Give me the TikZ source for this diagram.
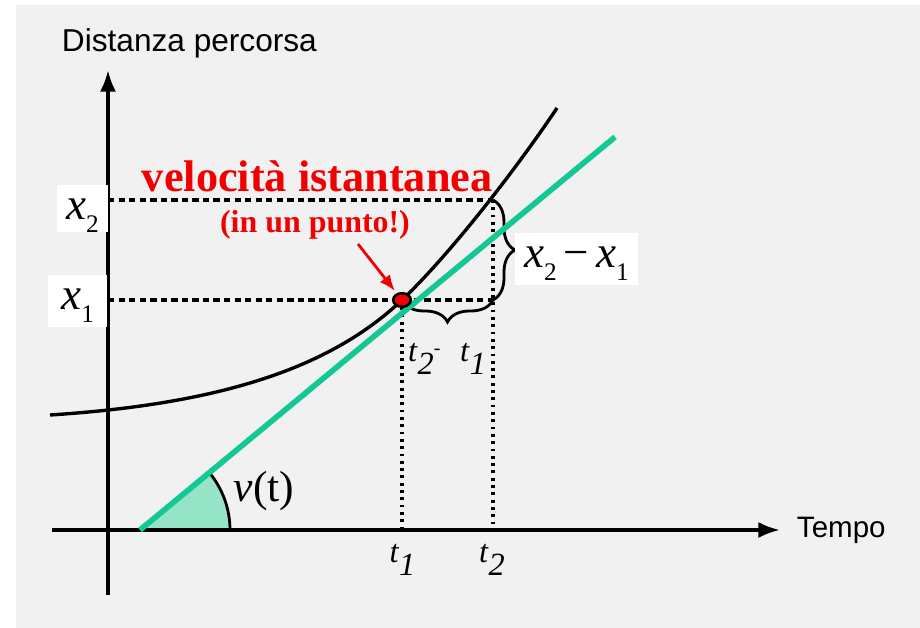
\documentclass[tikz,border=0pt]{standalone}
\usepackage{fontspec}
\setmainfont{Liberation Serif}
\newfontfamily\axisfont{Liberation Sans}
\usepackage{tikz}
\usetikzlibrary{decorations.pathreplacing,shapes,arrows.meta,positioning}

\definecolor{tangent}{RGB}{20,200,150}
\definecolor{wedge}{RGB}{150,228,200}
\definecolor{paper}{RGB}{241,241,241}
\definecolor{hotred}{RGB}{240,0,0}

\newcommand{\fs}[1]{\fontsize{#1}{#1}\selectfont}
\newcommand{\xsub}[1]{\textit{x}\raisebox{-9pt}{\fs{18pt}#1}}
\newcommand{\tsub}[1]{\textit{t}\raisebox{-9pt}{\textit{#1}}}

\begin{document}
\begin{tikzpicture}[scale=1,
    axis/.style={line width=2.5pt, -{Latex[length=5.4mm,width=4mm]}},
    guide/.style={line width=2.3pt, dash pattern=on 4.5pt off 3pt},
    drop/.style={line width=2.3pt, dash pattern=on 2pt off 3.2pt},
    bracket/.style={line width=2pt, decorate, decoration={brace, amplitude=0.55cm}},
    whitelab/.style={fill=white, inner sep=0pt, text height=25pt, anchor=base, font=\fs{32pt}},
    tlab/.style={anchor=base, font=\fs{23pt}}]
  % paper and frame
  \useasboundingbox (0,0) rectangle (23,15.7);
  \fill[paper] (0.4,0) rectangle (23,15.575);

  % points
  \coordinate (yb) at (2.7,0.825);
  \coordinate (yt) at (2.7,13.95);
  \coordinate (xl) at (1.3,2.45);
  \coordinate (xr) at (19.5,2.45);
  \coordinate (a1) at (2.7,8.2);
  \coordinate (a2) at (2.7,10.7);
  \coordinate (p1) at (10.05,8.2);
  \coordinate (p2) at (12.325,10.7);
  \coordinate (c12) at (12.325,8.2);
  \coordinate (b1) at (10.05,2.45);
  \coordinate (b2) at (12.325,2.45);
  \coordinate (g0) at (3.5,2.45);
  \coordinate (g1) at (15.375,12.275);
  \coordinate (s0) at (1.25,5.325);
  \coordinate (s1) at (13.925,13.0);

  % angle
  \filldraw[fill=wedge, draw=black, line width=2pt] (g0) -- ++(0:2.25) arc (0:39.6:2.25) -- cycle;

  % axes
  \draw[axis] (yb) -- (yt);
  \draw[axis] (xl) -- (xr);
  \node[anchor=base west, font=\axisfont\fs{22.5pt}] (ylab) at (1.425,14.4) {Distanza percorsa};
  \node[anchor=base west, font=\axisfont\fs{21pt}] (xlab) at (19.8,2.25) {Tempo};

  % guides
  \draw[guide] (a2) -- (p2);
  \draw[guide] (a1) -- (c12);
  \draw[drop] (p1) -- (b1);
  \draw[drop] (p2) -- (b2);

  % braces
  \draw[bracket] (p2) -- (c12);
  \draw[bracket] (c12) -- (p1);

  % curve and tangent
  \draw[line width=2.4pt] (s0) .. controls (5.5,5.6) and (8.25,6.49) .. (p1) .. controls (11.25,9.34) and (12.925,11.5) .. (s1);
  \draw[tangent, line width=4pt] (g0) -- (g1);

  % labels
  \node[whitelab, text depth=8.5pt, minimum width=1.275cm] (lx2) at (2.0625,10.2) {\xsub{2}};
  \node[whitelab, text depth=12pt, minimum width=1.475cm] (lx1) at (1.94,7.95) {\xsub{1}};
  \node[whitelab, text depth=12pt, minimum width=3.075cm] (ldx) at (14.41,9.0) {\xsub{2}\hspace{5pt}−\hspace{5pt}\xsub{1}};
  \node[anchor=base, font=\fs{31pt}] (vt) at (6.6,3.15) {\textit{v}(t)};
  \node[tlab] (lt1) at (10.06,1.625) {\tsub{1}};
  \node[tlab] (lt2) at (12.3,1.625) {\tsub{2}};
  \node[tlab] (ldt) at (11.175,6.65) {\tsub{2}\raisebox{5pt}{\fs{14pt}-}\hspace{14pt}\tsub{1}};

  % instant
  \node[anchor=base west, text=hotred, font=\bfseries\fs{31.5pt}] (title) at (3.425,10.9) {velocità istantanea};
  \node[anchor=base, text=hotred, font=\bfseries\fs{22.7pt}] (punto) at (7.875,9.875) {(in un punto!)};
  \node[ellipse, draw=black, fill=hotred, line width=1.8pt, minimum width=0.44cm, minimum height=0.34cm, inner sep=0pt] (dot) at (p1) {};
  \coordinate (arr) at (8.95,9.6);
  \draw[hotred, line width=2pt, -{Latex[length=4mm,width=3.2mm]}, shorten >=2pt] (arr) -- (dot);
\end{tikzpicture}
\end{document}
